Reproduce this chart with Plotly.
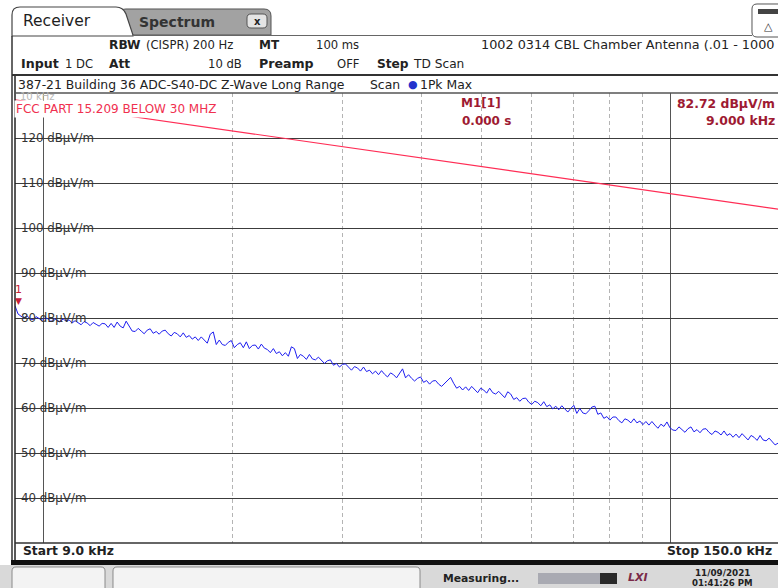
import numpy as np
import plotly.graph_objects as go

FONT = "DejaVu Sans"

# ---- scan data ---------------------------------------------------------------
start_hz = 9_000
stop_hz = 150_000
display_stop_hz = 148_300          # right edge of the visible display

marker_freq_hz = 9_000
marker_level = 82.72               # M1 readout, dBµV/m

# 1Pk Max trace in dBµV/m, one value per log-spaced scan bin from 9 kHz to 150 kHz
peak_level = [
    marker_level, 80.9, 80.4, 80.0, 80.5, 79.8, 79.6, 80.3, 79.9, 79.4,
    80.1, 79.8, 79.2, 79.9, 79.5, 79.1, 79.8, 79.3, 79.6, 78.9,
    79.4, 79.0, 78.5, 79.2, 78.9, 78.3, 79.0, 78.6, 78.2, 78.8,
    78.7, 77.9, 78.8, 77.9, 79.1, 78.2, 77.8, 79.3, 78.1, 77.1,
    77.0, 77.7, 77.1, 76.5, 77.3, 77.6, 76.6, 77.0, 76.4, 77.1,
    77.3, 76.5, 76.0, 76.8, 76.5, 75.8, 76.7, 75.7, 76.1, 75.3,
    75.8, 75.0, 75.8, 75.0, 74.4, 76.4, 76.9, 74.1, 75.1, 74.1,
    73.9, 74.6, 75.0, 73.4, 74.1, 74.5, 73.4, 74.7, 73.2, 73.9,
    74.0, 73.1, 74.2, 73.3, 73.0, 72.3, 73.2, 72.1, 72.5, 71.6,
    72.3, 71.5, 73.6, 73.2, 71.0, 71.9, 71.5, 70.8, 71.9, 70.9,
    70.7, 71.3, 70.5, 69.9, 70.5, 70.7, 69.5, 69.9, 69.1, 69.7,
    69.8, 69.0, 68.4, 69.2, 68.9, 68.2, 69.1, 68.1, 68.4, 67.6,
    68.2, 67.4, 68.3, 67.5, 66.9, 67.8, 67.4, 66.7, 67.8, 68.7,
    66.7, 67.4, 66.6, 66.0, 66.6, 66.9, 65.7, 66.1, 65.3, 66.0,
    66.1, 65.3, 64.8, 65.5, 66.0, 66.8, 65.5, 64.4, 64.8, 64.0,
    64.7, 63.9, 64.8, 64.0, 63.4, 64.4, 64.0, 63.3, 64.4, 63.4,
    63.1, 63.7, 62.9, 62.3, 63.6, 63.1, 61.9, 62.3, 61.5, 62.1,
    62.2, 61.3, 60.8, 61.5, 61.2, 60.5, 61.4, 60.3, 60.7, 59.8,
    60.4, 59.6, 60.5, 59.7, 59.1, 59.9, 60.6, 58.8, 59.9, 58.9,
    58.7, 59.4, 60.2, 60.4, 58.6, 58.9, 57.7, 58.1, 57.3, 58.0,
    58.0, 57.2, 56.7, 57.6, 57.3, 56.7, 57.6, 56.7, 57.1, 56.3,
    57.0, 56.2, 57.0, 56.2, 55.5, 56.4, 55.9, 56.9, 55.6, 55.1,
    55.0, 55.8, 55.1, 54.6, 55.4, 55.8, 54.7, 55.2, 54.5, 55.3,
    55.4, 54.6, 54.1, 54.9, 54.6, 54.0, 54.9, 53.9, 54.3, 53.5,
    54.2, 53.4, 54.3, 53.5, 52.9, 53.9, 53.5, 52.8, 53.9, 52.9,
    52.7, 53.3, 52.5, 51.8, 52.2, 52.3,
]
scan_freq_hz = np.geomspace(start_hz, stop_hz, len(peak_level))

# FCC Part 15.209 limit below 30 MHz (2400/F(kHz) µV/m, referred to 3 m)
limit_freq_hz = [9_000, 150_000]
limit_level = [128.5, 104.1]

grid_levels = [40, 50, 60, 70, 80, 90, 100, 110, 120]
level_range = [30, 130]
major_freqs = [10_000, 100_000]
minor_freqs = [20_000, 30_000, 40_000, 50_000, 60_000, 70_000, 80_000, 90_000]

# ---- screen geometry (pixels) --------------------------------------------------
W, H = 778, 588
L, R, T, B = 15, 778, 93, 543


def X(px):
    return (px - L) / (R - L)


def Y(py):
    return (B - py) / (B - T)


def P(x, y):
    return f"{X(x):.5f},{Y(y):.5f}"


def rounded(x0, y0, x1, y1, r):
    return (f"M {P(x0 + r, y0)} L {P(x1 - r, y0)} Q {P(x1, y0)} {P(x1, y0 + r)} "
            f"L {P(x1, y1 - r)} Q {P(x1, y1)} {P(x1 - r, y1)} L {P(x0 + r, y1)} "
            f"Q {P(x0, y1)} {P(x0, y1 - r)} L {P(x0, y0 + r)} Q {P(x0, y0)} {P(x0 + r, y0)} Z")


shapes = []
annotations = []


def rect(x0, y0, x1, y1, fill, line=None, lw=0, layer="above"):
    shapes.append(dict(type="rect", xref="paper", yref="paper",
                       x0=X(x0), x1=X(x1), y0=Y(y1), y1=Y(y0),
                       fillcolor=fill, line=dict(color=line or fill, width=lw),
                       layer=layer))


def seg(x0, y0, x1, y1, color, w):
    shapes.append(dict(type="line", xref="paper", yref="paper",
                       x0=X(x0), x1=X(x1), y0=Y(y0), y1=Y(y1),
                       line=dict(color=color, width=w)))


def path(d, fill, line, lw=1):
    shapes.append(dict(type="path", xref="paper", yref="paper", path=d,
                       fillcolor=fill, line=dict(color=line, width=lw)))


def txt(x, y, s, size=12, color="#222", bold=False, anchor="left", bg=None):
    annotations.append(dict(
        xref="paper", yref="paper", x=X(x), y=Y(y),
        text=f"<b>{s}</b>" if bold else s, showarrow=False,
        xanchor=anchor, yanchor="middle",
        font=dict(family=FONT, size=size, color=color),
        bgcolor=bg, borderpad=1))


fig = go.Figure()

# limit line
fig.add_trace(go.Scatter(x=limit_freq_hz, y=limit_level, mode="lines",
                         line=dict(color="#ff2d55", width=1.2),
                         hoverinfo="skip"))
# 1Pk Max trace
fig.add_trace(go.Scatter(x=scan_freq_hz, y=peak_level, mode="lines",
                         line=dict(color="#1e1ef0", width=1),
                         hoverinfo="skip"))

# ---- diagram background patches (between grid and traces) ---------------------
for lvl in grid_levels:
    shapes.append(dict(type="rect", xref="paper", yref="y",
                       x0=X(15.5), x1=X(95), y0=lvl - 1.5, y1=lvl + 1.5,
                       fillcolor="white", line=dict(width=0), layer="between"))
shapes.append(dict(type="rect", xref="paper", yref="paper",
                   x0=X(424), x1=X(778), y0=Y(127), y1=Y(93),
                   fillcolor="white", line=dict(width=0), layer="between"))

# ---- window chrome ---------------------------------------------------------------
# tabs
path(f"M {P(118, 35)} L {P(118, 16)} Q {P(118, 9)} {P(126, 9)} L {P(264, 9)} "
     f"Q {P(271, 9)} {P(271, 16)} L {P(271, 35)} Z", "#a2a2a2", "#555", 1)
path(f"M {P(12, 36)} L {P(12, 15)} Q {P(12, 7)} {P(20, 7)} L {P(116, 7)} "
     f"Q {P(123, 7)} {P(126, 14)} L {P(133, 35)} L {P(133, 36)} Z", "white", "#444", 1.2)
path(rounded(247, 14, 267, 28, 4), "#e4e4e4", "#555", 1)
txt(257, 21, "x", size=10, color="#222", bold=True, anchor="center")
seg(133, 35.5, 752, 35.5, "#666", 1)

# top-right icon
path(rounded(752, 4, 792, 37, 5), "white", "#555", 1)
rect(758, 9, 778, 14, "#444")
txt(768, 27, "△", size=11, color="#333", anchor="center")

# window frame
seg(12, 36, 12, 563, "#333", 1.5)
seg(15, 75, 15, 563, "#222", 1.5)
seg(12, 75, 778, 75, "#333", 2)
seg(15, 93, 778, 93, "#555", 1.5)
seg(15, 543, 778, 543, "#333", 1.5)
rect(11, 560, 778, 565, "#111")

# status bar
rect(0, 565, 778, 588, "#d9d9d9")
path(rounded(12, 567, 105, 592, 4), "#f3f3f3", "#8a8a8a", 1)
path(rounded(113, 567, 420, 592, 4), "#f3f3f3", "#8a8a8a", 1)
rect(538, 573, 600, 584, "#a9aab2")
rect(600, 573, 617, 584, "#2a2a2a")

# ---- text ------------------------------------------------------------------------
txt(21, 21, "Receiver", size=15.5, color="#1e1e1e")
txt(137, 22, "Spectrum", size=14, color="#333", bold=True)

txt(107, 45, "RBW", size=12.2, bold=True)
txt(144, 45, "(CISPR) 200 Hz", size=11.6)
txt(257, 45, "MT", size=12, bold=True)
txt(361, 45, "100 ms", size=11.6, anchor="right")
txt(479, 45, "1002 0314 CBL Chamber Antenna (.01 - 1000", size=12.8)

txt(19, 64, "Input", size=12.6, bold=True)
txt(63, 64, "1 DC", size=11.6)
txt(107, 64, "Att", size=12.2, bold=True)
txt(244, 64, "10 dB", size=11.6, anchor="right")
txt(257, 64, "Preamp", size=12.6, bold=True)
txt(361, 64, "OFF", size=11.6, anchor="right")
txt(375, 64, "Step", size=12.2, bold=True)
txt(411, 64, "TD Scan", size=12.2)

txt(16, 84, "387-21 Building 36 ADC-S40-DC Z-Wave Long Range", size=12.4)
txt(368, 84, "Scan", size=12.4)
txt(413, 84, "●", size=11, color="#2233cc", anchor="center")
txt(418, 84, "1Pk Max", size=12.4)

txt(18, 97, "10 kHz", size=10, color="#b8b8b8")
txt(14, 109, "FCC PART 15.209 BELOW 30 MHZ", size=12, color="#f0304f", bg="white")

mk_color = "#9e1a32"
txt(459, 103, "M1[1]", size=12, color=mk_color, bold=True)
txt(460, 121, "0.000 s", size=12, color=mk_color, bold=True)
txt(777, 103, f"{marker_level:.2f} dBµV/m", size=12.4, color=mk_color, bold=True,
    anchor="right")
txt(777, 121, f"{marker_freq_hz / 1000:.3f} kHz", size=12.4, color=mk_color, bold=True,
    anchor="right")

for lvl in grid_levels:
    annotations.append(dict(xref="paper", yref="y", x=X(19), y=lvl,
                            text=f"{lvl} dBµV/m", showarrow=False,
                            xanchor="left", yanchor="middle",
                            font=dict(family=FONT, size=11.8, color="#333")))

# marker M1 symbol on the trace
annotations.append(dict(xref="x", yref="y", x=np.log10(marker_freq_hz), y=marker_level,
                        text="▼", showarrow=False, xanchor="center", yanchor="bottom",
                        xshift=3, yshift=-2,
                        font=dict(family=FONT, size=9, color="#c8203a")))
annotations.append(dict(xref="x", yref="y", x=np.log10(marker_freq_hz), y=marker_level,
                        text="1", showarrow=False, xanchor="center", yanchor="bottom",
                        xshift=3, yshift=8,
                        font=dict(family=FONT, size=11, color="#c8203a")))

txt(21, 551, f"Start {start_hz / 1000:.1f} kHz", size=12.3, bold=True)
txt(774, 551, f"Stop {stop_hz / 1000:.1f} kHz", size=12.3, bold=True, anchor="right")

txt(441, 578, "Measuring...", size=10.8, bold=True)
txt(638, 577, "<i>LXI</i>", size=11, color="#7a2a48", bold=True, anchor="center")
txt(722, 573, "11/09/2021", size=8.8, bold=True, anchor="center")
txt(722, 583, "01:41:26 PM", size=8.6, bold=True, anchor="center")

fig.update_layout(
    width=W, height=H,
    margin=dict(l=L, r=W - R, t=T, b=H - B),
    paper_bgcolor="white", plot_bgcolor="white",
    showlegend=False,
    shapes=shapes, annotations=annotations,
    xaxis=dict(type="log",
               range=[np.log10(start_hz), np.log10(display_stop_hz)],
               tickmode="array", tickvals=major_freqs,
               showgrid=True, gridcolor="#555", gridwidth=1.4,
               showticklabels=False, ticks="", zeroline=False, showline=False,
               minor=dict(tickmode="array", tickvals=minor_freqs, showgrid=True,
                          gridcolor="#b4b4b4", gridwidth=1, griddash="4px,3px",
                          ticks="")),
    yaxis=dict(range=level_range, tickmode="array", tickvals=grid_levels,
               showgrid=True, gridcolor="#3c3c3c", gridwidth=1.4,
               showticklabels=False, ticks="", zeroline=False, showline=False),
)

fig.write_html("out.html")
